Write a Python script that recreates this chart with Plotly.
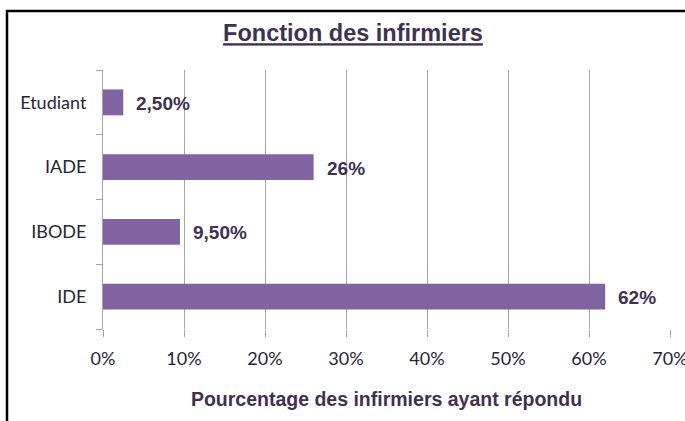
import plotly.graph_objects as go

categories = ["IDE", "IBODE", "IADE", "Etudiant"]
values = [62, 9.5, 26, 2.5]
value_labels = ["62%", "9,50%", "26%", "2,50%"]
x_ticks = [0, 10, 20, 30, 40, 50, 60, 70]
x_tick_labels = ["0%", "10%", "20%", "30%", "40%", "50%", "60%", "70%"]

BAR = "#8064a2"
DARK = "#3f3151"
TICK = "#262636"

fig = go.Figure()
fig.add_trace(go.Bar(
    x=values, y=categories, orientation="h",
    marker=dict(color=BAR, line=dict(width=0)),
    hoverinfo="skip",
))

for v, c, t in zip(values, categories, value_labels):
    fig.add_annotation(x=v, y=c, xref="x", yref="y", text="<b>" + t + "</b>", showarrow=False,
                       xanchor="left", yanchor="middle", xshift=11, yshift=-1,
                       font=dict(family="Liberation Sans, Arial", size=19, color=DARK))

fig.update_layout(
    width=685, height=421,
    margin=dict(l=103, r=15, t=70, b=92, autoexpand=False),
    paper_bgcolor="white", plot_bgcolor="white",
    bargap=0.6,
    showlegend=False,
    title=dict(text="<u><b>Fonction des infirmiers</b></u>",
               x=353/685, xanchor="center", xref="container",
               y=1-33/421, yanchor="middle", yref="container",
               font=dict(family="Liberation Sans, Arial", size=23.5, color=DARK)),
    xaxis=dict(range=[0, 70], tickvals=x_ticks, ticktext=x_tick_labels,
               showgrid=True, gridcolor="#a6a6a6", gridwidth=1,
               showline=False, zeroline=False, automargin=False,
               ticks="outside", ticklen=7, tickcolor="#a6a6a6",
               tickfont=dict(family="Lato, Open Sans", size=18, color=TICK),
               ticklabelstandoff=6, ticklabeloverflow="allow",
               title=dict(text="<b>Pourcentage des infirmiers ayant répondu</b>",
                          font=dict(family="Liberation Sans, Arial", size=19.5, color=DARK),
                          standoff=24),
               fixedrange=True),
    yaxis=dict(showline=True, linecolor="#a6a6a6", linewidth=1, automargin=False,
               ticks="outside", ticklen=6, tickcolor="#a6a6a6",
               tickson="boundaries", showgrid=False, zeroline=False,
               tickfont=dict(family="Lato, Open Sans", size=18, color=TICK),
               ticklabelstandoff=12,
               fixedrange=True),
)

fig.add_shape(type="rect", xref="paper", yref="paper",
              x0=(7-103)/567, x1=(695-103)/567,
              y0=(329-430)/259, y1=(329-11)/259,
              line=dict(color="black", width=2.5), fillcolor="rgba(0,0,0,0)",
              layer="above")

fig.write_html("out.html", config={"displayModeBar": False},
               post_script="document.body.style.margin='0';")
